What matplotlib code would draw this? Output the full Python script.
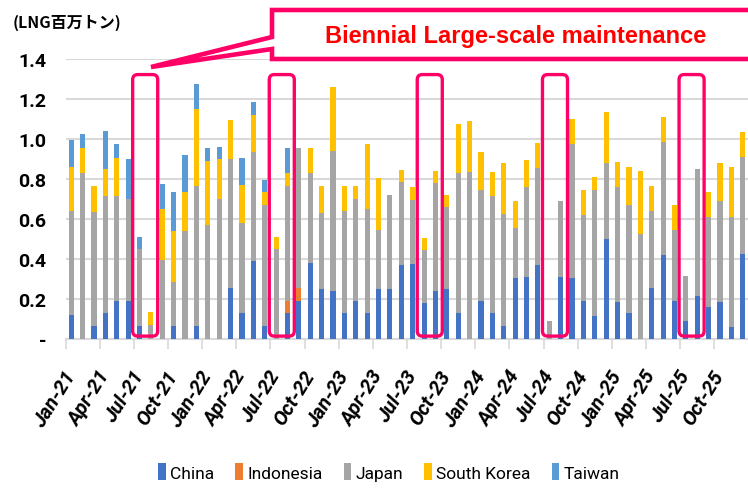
import matplotlib
matplotlib.use("Agg")
import matplotlib.pyplot as plt
import numpy as np
from matplotlib.patches import FancyBboxPatch, Polygon

months = ["Jan", "Feb", "Mar", "Apr", "May", "Jun", "Jul", "Aug", "Sep", "Oct", "Nov", "Dec"]
categories = [f"{m}-{y}" for y in range(21, 26) for m in months]

china = [0.12, 0, 0.063, 0.127, 0.19, 0.19, 0.063, 0, 0, 0.063, 0, 0.063,
         0, 0, 0.253, 0.127, 0.387, 0.063, 0, 0.127, 0.19, 0.38, 0.247, 0.24,
         0.127, 0.19, 0.127, 0.247, 0.247, 0.367, 0.373, 0.177, 0.24, 0.247, 0.127, 0,
         0.19, 0.127, 0.063, 0.303, 0.31, 0.367, 0, 0.31, 0.303, 0.19, 0.115, 0.50,
         0.183, 0.127, 0, 0.253, 0.417, 0.19, 0.088, 0.215, 0.158, 0.183, 0.057, 0.423]
indonesia = [0] * 19 + [0.063, 0.063] + [0] * 39
japan = [0.518, 0.828, 0.569, 0.586, 0.523, 0.51, 0.384, 0.07, 0.392, 0.22, 0.537, 0.70,
         0.568, 0.70, 0.644, 0.453, 0.546, 0.605, 0.447, 0.573, 0.70, 0.447, 0.383, 0.70,
         0.51, 0.51, 0.523, 0.295, 0.471, 0.415, 0.32, 0.265, 0.537, 0.411, 0.70, 0.833,
         0.555, 0.586, 0.562, 0.252, 0.448, 0.486, 0.088, 0.378, 0.669, 0.428, 0.63, 0.378,
         0.575, 0.543, 0.523, 0.385, 0.568, 0.353, 0.227, 0.632, 0.449, 0.505, 0.55, 0.487]
south_korea = [0.22, 0.125, 0.131, 0.134, 0.189, 0, 0, 0.062, 0.258, 0.254, 0.195, 0.385,
               0.322, 0.197, 0.195, 0.19, 0.189, 0.064, 0.063, 0.064, 0, 0.126, 0.133, 0.322,
               0.126, 0.063, 0.322, 0.26, 0, 0.063, 0.064, 0.063, 0.061, 0.062, 0.246, 0.254,
               0.188, 0.12, 0.252, 0.133, 0.134, 0.125, 0, 0, 0.126, 0.127, 0.063, 0.259,
               0.125, 0.188, 0.315, 0.125, 0.125, 0.125, 0, 0, 0.125, 0.189, 0.251, 0.125]
taiwan = [0.134, 0.069, 0, 0.19, 0.07, 0.197, 0.063, 0, 0.125, 0.195, 0.188, 0.127,
          0.063, 0.063, 0, 0.132, 0.063, 0.063, 0, 0.126] + [0] * 40

series_names = ["China", "Indonesia", "Japan", "South Korea", "Taiwan"]
series_values = [china, indonesia, japan, south_korea, taiwan]
series_colors = ["#4472C4", "#ED7D31", "#A5A5A5", "#FFC000", "#5B9BD5"]

# start index of each two-month maintenance window
maintenance_starts = [6, 18, 31, 42, 54]
annotation_text = "Biennial Large-scale maintenance"
ylabel_text = "(LNG百万トン)"

narrow = "Roboto"

W, H = 748, 489
fig = plt.figure(figsize=(W / 100, H / 100), dpi=100)
ax = fig.add_axes([65.5 / W, 1 - 339.5 / H, (748.5 - 65.5) / W, (339.5 - 60) / H])

n = len(categories)
x = np.arange(n)
bottom = np.zeros(n)
for name, vals, col in zip(series_names, series_values, series_colors):
    v = np.array(vals, dtype=float)
    ax.bar(x, v, width=0.45, bottom=bottom, color=col, label=name, zorder=3, linewidth=0)
    bottom += v

ax.set_xlim(-0.5, n - 0.5)
ax.set_ylim(0, 1.4)
yt = np.round(np.arange(0, 1.41, 0.2), 1)
ax.set_yticks(yt)
ax.set_yticklabels(["-"] + [f"{v:.1f}" for v in yt[1:]])
ax.grid(axis="y", color="#D9D9D9", linewidth=1.5, zorder=0)
for s in ["top", "right", "left"]:
    ax.spines[s].set_visible(False)
ax.spines["bottom"].set_color("#D9D9D9")
ax.spines["bottom"].set_linewidth(1.5)
ax.spines["bottom"].set_zorder(2)

ax.tick_params(axis="y", length=0, pad=14)
for lab in ax.get_yticklabels():
    lab.set_fontfamily(narrow)
    lab.set_fontsize(14)
    lab.set_fontweight("bold")

# tick marks at quarter boundaries, labels at category centres
ax.set_xticks(np.arange(-0.5, n, 3))
ax.set_xticklabels([])
ax.tick_params(axis="x", which="major", length=7, width=1.2, color="#D9D9D9")
ax.set_xticks(np.arange(0, n, 3), minor=True)
ax.set_xticklabels([categories[i] for i in range(0, n, 3)], minor=True)
ax.tick_params(axis="x", which="minor", length=0, pad=24)
for lab in ax.get_xticklabels(minor=True):
    lab.set_rotation(58)
    lab.set_ha("right")
    lab.set_va("center")
    lab.set_rotation_mode("anchor")
    lab.set_fontfamily(narrow)
    lab.set_fontsize(14.5)
    lab.set_fontweight("bold")
    lab.set_fontstyle("italic")

# maintenance highlight boxes
px_x = (748.5 - 65.5) / n
px_y = (339.5 - 60) / 1.4
for s in maintenance_starts:
    box = FancyBboxPatch((s - 0.6, 0.012), 2.2, 1.31,
                         boxstyle="round,pad=0,rounding_size=0.45",
                         mutation_aspect=px_x / px_y,
                         fill=False, edgecolor="#FF0066", linewidth=2.4,
                         zorder=5, clip_on=False)
    ax.add_patch(box)

# callout box
def fp(px, py):
    return (px / W, 1 - py / H)

pts = [fp(272, 38), fp(151, 68), fp(272, 50), fp(272, 60), fp(760, 60), fp(760, 11), fp(272, 11)]
call = Polygon(pts, closed=True, transform=fig.transFigure, facecolor="white",
               edgecolor="#FF0066", linewidth=3.3, joinstyle="miter", zorder=10)
fig.patches.append(call)
fig.text(516 / W, 1 - 37 / H, annotation_text, color="#FF0000", fontsize=17,
         fontweight="bold", family="Liberation Sans", ha="center", va="center", zorder=11)

fig.text(13 / W, 1 - 23 / H, ylabel_text, fontsize=11.5, fontweight="bold",
         family=["Noto Sans CJK JP", "DejaVu Sans"], ha="left", va="center")

leg = fig.legend(loc="center", bbox_to_anchor=(389 / W, 1 - 473 / H), ncol=5,
                 frameon=False, handlelength=0.45, handleheight=1.1,
                 handletextpad=0.25, columnspacing=1.2,
                 prop={"family": narrow, "size": 12.5})

fig.savefig("out.png", dpi=100)
